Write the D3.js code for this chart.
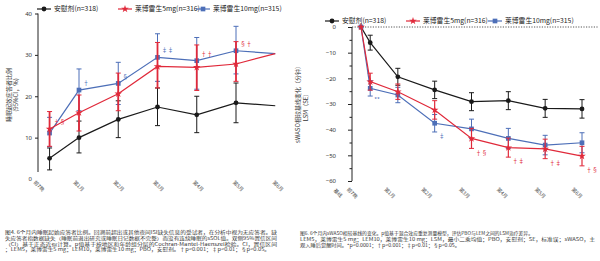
<!DOCTYPE html>
<html><head><meta charset="utf-8">
<script src="https://cdn.jsdelivr.net/npm/d3@7"></script>
<style>
html,body{margin:0;padding:0;background:#fff;}
svg{display:block;font-family:"Noto Sans CJK SC","Noto Sans",sans-serif;}
</style></head>
<body><svg id="c" width="600" height="261"></svg>
<script>
// ---------- data ----------
const leftCats = ["前7晚","第1月","第2月","第3月","第4月","第5月","第6月"];
const leftT = [0.25,1,2,3,4,5,6];
const pboL   = [5.0, 10.0, 14.4, 17.4, 15.5, 18.4, 17.7];
const pboLlo = [2.2, 6.3, 10.0, 12.9, 11.2, 13.6, null];
const pboLhi = [7.5, 14.0, 18.9, 22.0, 20.0, 23.2, null];
const l5L    = [12.1, 16.0, 20.6, 27.2, 27.0, 27.8, 30.3];
const l5Llo  = [7.9, 11.6, 16.5, 22.0, 21.4, 23.6, null];
const l5Lhi  = [16.3, 20.3, 25.6, 33.0, 32.4, 33.2, null];
const l10L   = [11.1, 21.5, 23.1, 29.4, 28.6, 31.0, 30.3];
const l10Llo = [7.8, 16.5, 18.0, 23.6, 21.7, 25.4, null];
const l10Lhi = [14.9, 26.6, 28.2, 35.1, 34.2, 36.9, null];
const leftTicks = [0,10,20,30,40];
const leftNotes = [ // [series, index, text]
  ["l5",0,"†§"],["l10",1,"†"],["l10",2,"§"],["l10",3,"‡‡"],["l5",4,"††"],["l5",5,"§†"]
];

const rightCats = ["基线","前7晚","第1月","第2月","第3月","第4月","第5月","第6月"];
const rightT = [0,0.25,1,2,3,4,5,6];
const pboR   = [0, -6.1, -19.4, -24.5, -29.1, -28.7, -31.7, -31.9];
const pboRse = [0, 2.9, 3.3, 3.4, 3.5, 3.5, 3.5, 3.6];
const l5R    = [0, -21.3, -25.2, -32.3, -43.4, -47.0, -47.5, -50.3];
const l5Rse  = [0, 3.3, 3.0, 3.6, 3.9, 3.7, 3.8, 3.8];
const l10R   = [0, -23.9, -26.5, -37.5, -39.7, -43.4, -46.0, -45.1];
const l10Rse = [0, 3.0, 3.0, 3.4, 3.8, 3.9, 3.8, 3.9];
const rightTicks = [0,-10,-20,-30,-40,-50,-60];
const rightNotes = [
  ["l10",1,"**"],["l10",3,"‡"],["l5",4,"†§"],["l5",5,"†‡"],["l5",6,"†‡"],["l5",7,"†§"]
];

const legendLabels = ["安慰剂(n=318)","莱博雷生5mg(n=316)","莱博雷生10mg(n=315)"];
const leftCaption = [
 "图4. 6个月内睡眠起始应答者比例。回溯前超出或其他夜间ISI缺失信息的受试者，在分析中视为无应答者。缺",
 "失应答者指数据缺失（睡眠前退出研究或睡眠日记数据不完整）而没有连续睡眠的sSOL值。双侧95%置信区间",
 "（CI）基于正态近似计算。p值基于按地区和年龄组分层的Cochran-Mantel-Haenszel检验。CI，置信区间",
 "；LEM5，莱博雷生5 mg；LEM10，莱博雷生10 mg；PBO，安慰剂。†p<0.001；‡p<0.01；§p<0.05。"
];
const rightCaption = [
 "图6. 6个月内sWASO相较基线的变化。p值基于混合效应重复测量模型，评估PBO与LEM之间的LSM治疗差异。",
 "LEM5，莱博雷生5 mg；LEM10，莱博雷生10 mg；LSM，最小二乘均值；PBO，安慰剂；SE，标准误；sWASO，主",
 "观入睡后觉醒时间。*p<0.0001；†p<0.001；‡p<0.01；§p<0.05。"
];

// ---------- styles ----------
const COL = {pbo:"#1a1a1a", l5:"#e0293a", l10:"#4d6fb8"};
const svg = d3.select("#c");

function marker(g, key, x, y){
  if(key==="pbo") g.append("circle").attr("cx",x).attr("cy",y).attr("r",2.4).attr("fill",COL.pbo);
  else if(key==="l5") g.append("path").attr("d",d3.symbol(d3.symbolStar,18)()).attr("transform",`translate(${x},${y})`).attr("fill",COL.l5);
  else g.append("path").attr("d",d3.symbol(d3.symbolSquare,22)()).attr("transform",`translate(${x},${y})`).attr("fill",COL.l10);
}

function series(g, x, y, key, t, v, lo, hi, ew, noLastMarker){
  const pts = t.map((d,i)=>({t:d,v:v[i],lo:lo[i],hi:hi[i],i}));
  pts.filter(p=>p.lo!=null && p.hi!=null && p.lo!==p.hi).forEach(p=>{
    const xx=x(p.t);
    g.append("line").attr("x1",xx).attr("x2",xx).attr("y1",y(p.lo)).attr("y2",y(p.hi)).attr("stroke",COL[key]).attr("stroke-width",ew);
    [p.lo,p.hi].forEach(e=>g.append("line").attr("x1",xx-2.5).attr("x2",xx+2.5).attr("y1",y(e)).attr("y2",y(e)).attr("stroke",COL[key]).attr("stroke-width",1));
  });
  g.append("path").datum(pts).attr("fill","none").attr("stroke",COL[key]).attr("stroke-width",1.2)
    .attr("d",d3.line().x(p=>x(p.t)).y(p=>y(p.v)));
  pts.forEach((p,i)=>{ if(noLastMarker && i===pts.length-1) return; marker(g,key,x(p.t),y(p.v)); });
}

function legend(y0, xs){
  const keys=["pbo","l5","l10"];
  keys.forEach((k,i)=>{
    const mx=xs[i];
    svg.append("line").attr("x1",mx-7).attr("x2",mx+7).attr("y1",y0).attr("y2",y0).attr("stroke",COL[k]).attr("stroke-width",1.2);
    marker(svg,k,mx,y0);
    svg.append("text").attr("x",mx+10).attr("y",y0).attr("dy","0.35em").attr("font-size",6.8).attr("fill","#222").text(legendLabels[i]);
  });
}

// ---------- left chart ----------
{
  const x = d3.scaleLinear().domain([1,5]).range([79,236]);
  const y = d3.scaleLinear().domain([0,40]).range([179,13.5]);
  const g = svg.append("g");
  g.append("line").attr("x1",38).attr("x2",38).attr("y1",y(40)).attr("y2",172).attr("stroke","#222").attr("stroke-width",1);
  const ax = g.append("g").attr("transform","translate(38,0)").call(d3.axisLeft(y).tickValues(leftTicks).tickSize(3).tickPadding(3));
  ax.select(".domain").remove();
  ax.selectAll(".tick line").attr("stroke","#222").filter(d=>d===0).remove();
  ax.selectAll("text").attr("font-size",6).attr("fill","#333").attr("font-family","Noto Sans");
  const lx = d3.scalePoint().domain(leftCats).range([39,278]);
  leftCats.forEach(c=>{
    g.append("text").attr("transform",`translate(${lx(c)},186) rotate(45)`).attr("text-anchor","middle").attr("dy","0.35em")
      .attr("font-size",5).attr("fill","#444").text(c);
  });
  series(g,x,y,"pbo",leftT,pboL,pboLlo,pboLhi,1,true);
  series(g,x,y,"l10",leftT,l10L,l10Llo,l10Lhi,1,true);
  series(g,x,y,"l5",leftT,l5L,l5Llo,l5Lhi,1.8,true);
  leftNotes.forEach(([k,i,txt])=>{
    const yy=Math.min(y(l5L[i]),y(l10L[i]))-7;
    g.append("text").attr("x",x(leftT[i])+4).attr("y",yy).attr("dy","0.35em").attr("font-size",6).attr("fill",COL[k]).text(txt);
  });
  g.append("text").attr("transform","translate(9,95) rotate(-90)").attr("text-anchor","middle").attr("dy","0.35em").attr("font-size",6).attr("fill","#333").text("睡眠起效应答者比例");
  g.append("text").attr("transform","translate(16,95) rotate(-90)").attr("text-anchor","middle").attr("dy","0.35em").attr("font-size",6).attr("fill","#333").text("(95%CI，%)");
  legend(9,[44,125,203]);
}

// ---------- right chart ----------
{
  const x = d3.scaleLinear().domain([0,6]).range([361,582]);
  const y = d3.scaleLinear().domain([0,-60]).range([27,181]);
  const g = svg.append("g");
  g.append("line").attr("x1",352).attr("x2",352).attr("y1",y(0)).attr("y2",y(-60)).attr("stroke","#222").attr("stroke-width",1);
  const ax = g.append("g").attr("transform","translate(352,0)").call(d3.axisLeft(y).tickValues(rightTicks).tickSize(4).tickPadding(12));
  ax.select(".domain").remove();
  ax.selectAll(".tick line").attr("stroke","#222");
  ax.selectAll("text").attr("font-size",6).attr("fill","#333").attr("font-family","Noto Sans");
  const minor = g.append("g").attr("transform","translate(352,0)").call(d3.axisLeft(y).tickValues(d3.range(-5,-60,-10)).tickSize(2.5).tickFormat(""));
  minor.select(".domain").remove();
  minor.selectAll(".tick line").attr("stroke","#222");
  g.append("line").attr("x1",352).attr("x2",598).attr("y1",y(0)).attr("y2",y(0)).attr("stroke","#444").attr("stroke-width",0.9).attr("stroke-dasharray","1.2,1.4");
  const shift = [-23,-18,-8,-8,-7,-6,-5,-5];
  rightCats.forEach((c,i)=>{
    g.append("text").attr("transform",`translate(${x(rightT[i])+shift[i]},193) rotate(45)`).attr("text-anchor","middle").attr("dy","0.35em")
      .attr("font-size",5).attr("fill","#444").text(c);
  });
  const lo=(v,s)=>v.map((d,i)=>d-s[i]), hi=(v,s)=>v.map((d,i)=>d+s[i]);
  series(g,x,y,"pbo",rightT,pboR,lo(pboR,pboRse),hi(pboR,pboRse),1,false);
  series(g,x,y,"l10",rightT,l10R,lo(l10R,l10Rse),hi(l10R,l10Rse),1,false);
  series(g,x,y,"l5",rightT,l5R,lo(l5R,l5Rse),hi(l5R,l5Rse),1.2,false);
  const vals={l5:[l5R,l5Rse],l10:[l10R,l10Rse]};
  rightNotes.forEach(([k,i,txt])=>{
    const [v,s]=vals[k];
    g.append("text").attr("x",x(rightT[i])+4).attr("y",y(v[i]-s[i])+4).attr("dy","0.35em").attr("font-size",6).attr("fill",COL[k]).text(txt);
  });
  g.append("text").attr("transform","translate(298,103) rotate(-90)").attr("text-anchor","middle").attr("dy","0.35em").attr("font-size",6).attr("fill","#333").text("sWASO相较基线变化（分钟）");
  g.append("text").attr("transform","translate(306,106) rotate(-90)").attr("text-anchor","middle").attr("dy","0.35em").attr("font-size",6).attr("fill","#333").text("LSM（SE）");
  legend(21,[332,413,495]);
}

// ---------- captions ----------
const cap = (lines, x0, y0, widths) => lines.forEach((l,i)=>{
  const t = svg.append("text").attr("x",x0).attr("y",y0+i*5.8).attr("font-size",4.6).attr("fill","#333").text(l);
  if(widths[i]) t.attr("textLength",widths[i]).attr("lengthAdjust","spacingAndGlyphs");
});
cap(leftCaption,5,234,[272,272,272,265]);
cap(rightCaption,300,235,[233,295,160]);
</script></body></html>
